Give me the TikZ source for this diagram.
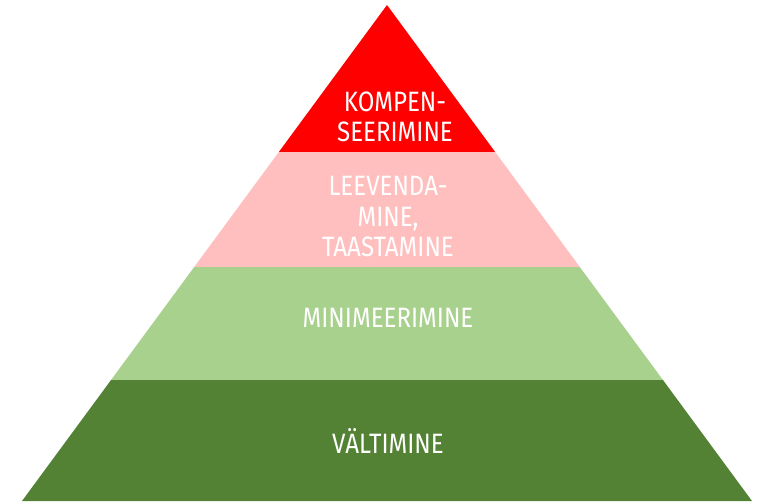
\documentclass[tikz,border=0pt]{standalone}
\usepackage{fontspec}
\setmainfont[FakeStretch=0.86]{Fira Sans}
\usepackage{tikz}

\definecolor{kompred}{HTML}{FF0000}
\definecolor{leevpink}{HTML}{FFBFBF}
\definecolor{minigreen}{HTML}{A9D18E}
\definecolor{valtgreen}{HTML}{548235}

\tikzset{
  layertext/.style={text=white, align=center, font=\fontsize{28}{30.5}\selectfont, inner sep=0pt}
}

\begin{document}
\begin{tikzpicture}[x=1pt, y=-1pt]
  \useasboundingbox (0,0) rectangle (766,501);
  \coordinate (apex) at (387,5);
  \coordinate (baseL) at (22,501);
  \coordinate (baseR) at (752,501);
  \begin{scope}
    \clip (apex) -- (baseL) -- (baseR) -- cycle;
    \fill[valtgreen] (0,380) rectangle (766,502);
    \fill[minigreen] (0,267) rectangle (766,380);
    \fill[leevpink] (0,152) rectangle (766,267);
    \fill[kompred] (0,0) rectangle (766,152);
  \end{scope}
  \node[layertext] (komp) at (395,117) {KOMPEN-\\SEERIMINE};
  \node[layertext] (leev) at (388,217) {LEEVENDA-\\MINE,\\TAASTAMINE};
  \node[layertext] (mini) at (388,318) {MINIMEERIMINE};
  \node[layertext] (valt) at (388,441) {VÄLTIMINE};
\end{tikzpicture}
\end{document}
